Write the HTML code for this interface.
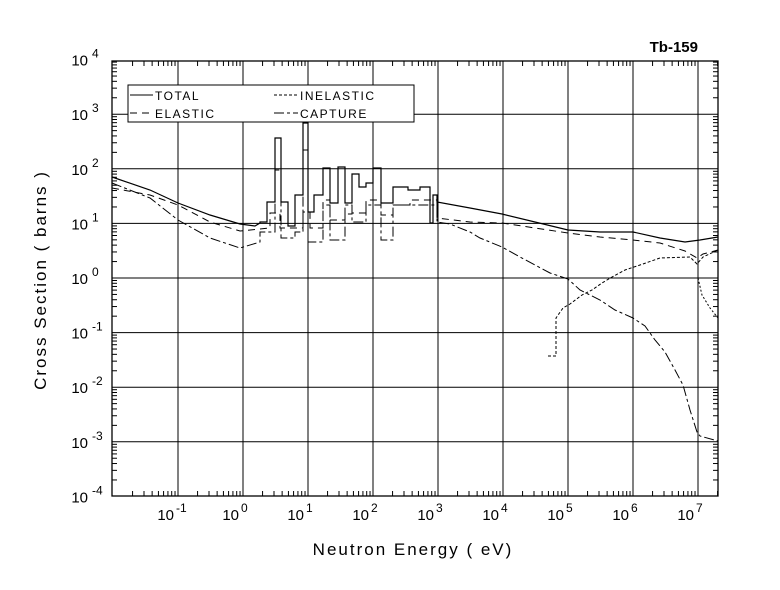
<!DOCTYPE html>
<html><head><meta charset="utf-8"><style>
html,body{margin:0;padding:0;background:#fff;}
svg{display:block;font-family:"Liberation Sans",sans-serif;}
</style></head><body>
<svg id="s" width="780" height="590" viewBox="0 0 780 590" xmlns="http://www.w3.org/2000/svg">
<text x="698" y="52" font-size="15" font-weight="bold" text-anchor="end">Tb-159</text>
<text transform="translate(46,280) rotate(-90)" font-size="17" text-anchor="middle" letter-spacing="2">Cross Section ( barns )</text>
<text x="413" y="555" font-size="17" text-anchor="middle" letter-spacing="2">Neutron Energy (  eV)</text>
<g id="g" stroke="#000" fill="none" stroke-width="1"></g>
<g id="t" font-size="15" fill="#000"></g>
</svg>
<script>
var g=document.getElementById('g'),t=document.getElementById('t'),NS='http://www.w3.org/2000/svg';
function el(p,n,a){var e=document.createElementNS(NS,n);for(var k in a)e.setAttribute(k,a[k]);p.appendChild(e);return e;}
var L=112,R=718,T=61,B=496;
function X(d){return 243+65*d;} function Y(d){return 278-54.6*d;}
el(g,'rect',{x:L,y:T,width:R-L,height:B-T,'stroke-width':1.3});
for(var d=-1;d<=7;d++){el(g,'line',{x1:X(d),y1:T,x2:X(d),y2:B});
 var tx=el(t,'text',{x:X(d)-4,y:520,'text-anchor':'end'});tx.textContent='10';
 var sx=el(t,'text',{x:X(d)-2,y:512,'font-size':12});sx.textContent=d;}
for(var d=-3;d<=3;d++){el(g,'line',{x1:L,y1:Y(d),x2:R,y2:Y(d)});}
for(var d=-4;d<=4;d++){var ty=el(t,'text',{x:88,y:Y(d)+6,'text-anchor':'end'});ty.textContent='10';
 var sy=el(t,'text',{x:92,y:Y(d)-2,'font-size':12});sy.textContent=d;}
for(var d=-2;d<=7;d++)for(var m=2;m<=9;m++){var x=X(d+Math.log10(m));if(x>L&&x<R){el(g,'line',{x1:x,y1:T,x2:x,y2:T+5});el(g,'line',{x1:x,y1:B,x2:x,y2:B-5});}}
for(var d=-4;d<=3;d++)for(var m=2;m<=9;m++){var y=Y(d+Math.log10(m));el(g,'line',{x1:L,y1:y,x2:L+5,y2:y});el(g,'line',{x1:R,y1:y,x2:R-5,y2:y});}
function steps(a){var s='';for(var i=0;i<a.length;i++){var b=a[i];s+=(i?'L':'M')+b[0]+' '+b[2]+'L'+b[1]+' '+b[2];}return s;}
var tot='M112 177L150 190L178 203L210 215L240 224L255 226L260 223'+' '+steps([[260,267,222],[267,275,202],[275,281,138],[281,288,202],[288,295,226],[295,303,195],[303,308,123],[308,314,212],[314,323,195],[323,330,168],[330,338,203],[338,345,167],[345,352,203],[352,359,174],[359,366,187],[366,373,183],[373,381,168],[381,393,203],[393,408,187],[408,420,190],[420,430,187],[430,433,223],[433,437,195]]).replace(/^M/,'L')+'L437 202L470 208L502 214L535 222L568 230L600 232L633 232L660 238L685 242L700 240L718 237';
el(g,'path',{d:tot,'stroke-width':1.2});
var ela='M112 188L150 195L178 205L210 222L240 231L270 228'+steps([[270,280,213],[280,290,228],[290,303,228],[303,310,212],[310,323,228],[323,330,200],[330,345,220],[345,352,214],[352,366,213],[366,381,200],[381,393,215],[393,410,205],[410,437,200]]).replace(/^M/,'L')+'L437 218L470 222L502 223L535 228L568 233L600 237L633 240L660 243L685 251L697 258L703 254L718 250';
el(g,'path',{d:ela,'stroke-dasharray':'7,5'});
var cap='M112 183L150 198L178 220L210 238L240 248L260 242'+steps([[260,275,232],[275,281,170],[281,295,238],[295,303,232],[303,308,150],[308,323,242],[323,330,205],[330,345,240],[345,352,205],[352,366,222],[366,381,205],[381,393,240],[393,437,205]]).replace(/^M/,'L')+'L437 222L450 224L470 232L480 238L502 247L520 257L535 265L550 273L568 279L580 290L600 300L615 310L633 318L645 326L655 340L665 352L675 370L683 385L690 410L697 432L700 436L718 441';
el(g,'path',{d:cap,'stroke-dasharray':'10,3,3,3'});
var ine='M548 356L556 356L556 318L563 308L570 304L582 295L592 290L602 283L612 277L625 270L640 265L660 258L690 257L697 264L703 257L718 250';
el(g,'path',{d:ine,'stroke-dasharray':'3,2'});
el(g,'path',{d:'M698 278L702 295L710 308L718 318','stroke-dasharray':'2,2'});
el(g,'rect',{x:128,y:85,width:286,height:37,fill:'#fff'});
el(g,'line',{x1:130,y1:95,x2:153,y2:95});
el(g,'line',{x1:130,y1:113,x2:153,y2:113,'stroke-dasharray':'7,5'});
el(g,'line',{x1:274,y1:95,x2:298,y2:95,'stroke-dasharray':'3,2'});
el(g,'line',{x1:274,y1:113,x2:298,y2:113,'stroke-dasharray':'10,3,3,3'});
[['TOTAL',155,100],['ELASTIC',155,118],['INELASTIC',300,100],['CAPTURE',300,118]].forEach(function(a){var e=el(t,'text',{x:a[1],y:a[2],'font-size':12,'letter-spacing':1.5});e.textContent=a[0];});
</script>
</body></html>
